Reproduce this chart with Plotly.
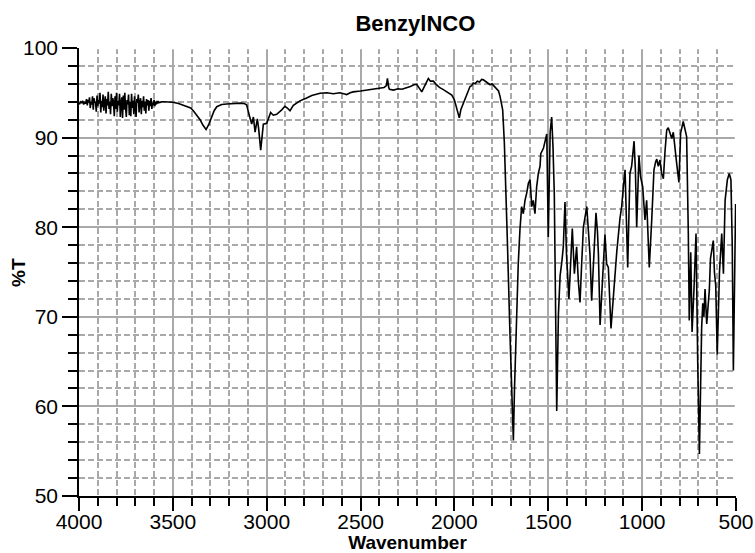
import plotly.graph_objects as go

# IR spectrum of benzyl isocyanate: wavenumber (cm-1) and transmittance (%T)
wavenumber = [
    4000, 3996, 3990, 3985, 3980, 3975, 3970, 3965, 3960, 3956, 3952, 3948,
    3944, 3940, 3936, 3932, 3928, 3924, 3920, 3916, 3912, 3908, 3904, 3900,
    3896, 3892, 3888, 3884, 3880, 3876, 3872, 3868, 3864, 3860, 3856, 3852,
    3848, 3844, 3840, 3836, 3832, 3828, 3824, 3820, 3816, 3812, 3808, 3804,
    3800, 3796, 3792, 3788, 3784, 3780, 3776, 3772, 3768, 3764, 3760, 3756,
    3752, 3748, 3744, 3740, 3736, 3732, 3728, 3724, 3720, 3716, 3712, 3708,
    3704, 3700, 3696, 3692, 3688, 3684, 3680, 3676, 3672, 3668, 3664, 3660,
    3656, 3652, 3648, 3644, 3640, 3636, 3632, 3628, 3624, 3620, 3616, 3612,
    3608, 3604, 3600, 3596, 3592, 3588, 3584, 3580, 3576, 3570, 3560,
    3550, 3520, 3500, 3470, 3440,
    3426, 3405, 3391, 3370, 3355, 3340, 3323, 3308, 3293, 3280, 3266, 3240,
    3213, 3180, 3140, 3120, 3107, 3093, 3080, 3071, 3062, 3050, 3043, 3032,
    3018, 3000, 2990, 2979, 2965, 2947, 2920, 2903, 2890, 2876, 2858, 2823,
    2790, 2760, 2716, 2680, 2645, 2610, 2590, 2574, 2555, 2540, 2500, 2467,
    2430, 2396, 2375, 2362, 2357, 2350, 2346, 2325, 2300, 2280, 2254, 2235,
    2215, 2201, 2190, 2180, 2174, 2165, 2150, 2139, 2128, 2112, 2100, 2080,
    2059, 2040, 2025, 2014, 2000, 1990, 1982, 1974, 1966, 1953, 1940, 1928,
    1917, 1908, 1900, 1890, 1878, 1866, 1855, 1846, 1835, 1822, 1810, 1800,
    1790, 1775, 1765, 1757, 1750, 1743, 1734, 1725, 1718, 1704, 1692, 1686,
    1680, 1668, 1660, 1651, 1646, 1642, 1633, 1624, 1615, 1606, 1597, 1588,
    1580, 1571, 1562, 1553, 1544, 1540, 1526, 1517, 1508, 1500, 1490, 1482,
    1475, 1468, 1460, 1455, 1446, 1437, 1428, 1420, 1411, 1403, 1390, 1380,
    1372, 1361, 1349, 1340, 1331, 1322, 1313, 1295, 1285, 1278, 1269, 1260,
    1246, 1238, 1233, 1224, 1210, 1198, 1189, 1180, 1166, 1155, 1145, 1135,
    1118, 1109, 1100, 1091, 1077, 1065, 1056, 1043, 1036, 1029, 1017, 1008,
    997, 985, 976, 962, 949, 937, 928, 922, 914, 905, 896, 887,
    878, 869, 861, 850, 842, 834, 825, 816, 804, 795, 781, 772,
    763, 754, 749, 741, 734, 724, 713, 704, 695, 683, 677, 671,
    665, 656, 648, 642, 636, 628, 621, 615, 608, 600, 594, 588,
    576, 567, 558, 546, 536, 527, 520, 514, 502,
]
transmittance = [
    93.9, 93.8, 94.0, 93.9, 94.1, 93.7, 94.0, 93.8, 94.3, 93.6, 94.2, 93.9,
    94.5, 93.3, 94.0, 93.7, 94.6, 93.1, 94.4, 93.9, 94.0, 92.9, 94.7, 93.5,
    94.2, 93.8, 95.0, 92.8, 94.1, 93.4, 94.8, 93.0, 93.9, 94.6, 92.7, 94.3,
    93.6, 95.1, 93.2, 94.0, 92.6, 94.9, 93.5, 94.4, 93.9, 92.4, 94.6, 93.2,
    95.0, 92.9, 94.1, 93.6, 94.9, 92.3, 93.8, 94.5, 92.2, 94.7, 93.1, 95.0,
    93.4, 92.3, 94.2, 93.7, 94.8, 92.5, 94.0, 92.4, 94.9, 93.3, 94.1, 92.6,
    94.6, 93.5, 92.3, 94.3, 93.9, 94.8, 92.8, 93.9, 94.4, 92.6, 94.1, 93.4,
    94.6, 93.0, 94.0, 92.7, 94.3, 93.6, 94.2, 93.0, 94.1, 93.5, 94.4, 93.2,
    93.9, 93.6, 94.2, 93.5, 94.0, 93.7, 94.1, 93.8, 94.0, 93.9, 94.0,
    94.0, 94.0, 93.95, 93.8, 93.6,
    93.5, 93.3, 93.0, 92.4, 92.0, 91.4, 90.9, 91.5, 92.3, 93.0, 93.45, 93.7,
    93.75, 93.8, 93.85, 93.8, 93.65, 92.5, 91.5, 92.3, 90.6, 92.1, 91.0, 88.6,
    91.5, 91.6, 92.2, 92.8, 92.5, 92.6, 93.1, 93.5, 93.3, 93.0, 93.6, 94.1,
    94.4, 94.7, 94.95, 95.0, 94.9, 95.0, 94.9, 94.8, 95.0, 95.1, 95.2, 95.3,
    95.35, 95.5, 95.6, 95.8, 96.6, 95.6, 95.4, 95.3, 95.45, 95.4, 95.55, 95.7,
    95.9, 95.95, 95.6, 95.2, 95.1, 95.5, 96.2, 96.6, 96.3, 96.3, 96.0, 95.6,
    95.35, 95.1, 94.9, 94.75, 94.2, 93.5, 92.9, 92.2, 93.1, 93.85, 94.6, 95.2,
    95.7, 95.8, 96.1, 96.0, 96.3, 96.2, 96.5, 96.45, 96.3, 96.1, 95.9, 96.0,
    95.8, 95.5, 95.2, 94.6, 93.9, 93.1, 89.4, 83.8, 78.5, 68.0, 59.5, 56.2,
    62.0, 71.8, 75.9, 79.7, 81.0, 82.3, 81.5, 83.0, 83.8, 84.9, 85.3, 82.3,
    83.0, 81.5, 84.5, 86.0, 86.8, 88.2, 88.8, 89.7, 90.4, 78.9, 90.6, 92.3,
    89.0, 83.8, 70.0, 59.5, 70.3, 74.6, 76.1, 77.8, 82.8, 77.0, 72.0, 76.5,
    79.85, 74.8, 77.8, 74.0, 71.6, 76.0, 80.0, 82.3, 78.5, 77.0, 71.8, 76.3,
    81.6, 79.5, 77.0, 69.1, 75.5, 79.2, 75.9, 75.5, 68.7, 72.0, 75.2, 77.3,
    81.0, 82.3, 84.5, 86.4, 75.5, 86.0, 86.8, 89.6, 86.4, 80.0, 88.0, 85.6,
    84.5, 80.8, 83.0, 75.5, 80.8, 86.4, 87.3, 87.6, 86.8, 87.5, 86.0, 85.4,
    88.5, 90.85, 91.1, 90.3, 89.9, 90.6, 88.6, 87.1, 85.0, 90.5, 91.8, 91.1,
    90.1, 79.3, 69.6, 77.2, 68.3, 73.0, 79.3, 65.0, 54.7, 68.8, 71.5, 70.0,
    73.1, 69.2, 71.0, 73.0, 76.5, 77.5, 78.5, 75.0, 73.5, 65.8, 71.0, 75.0,
    79.3, 74.8, 83.0, 85.3, 86.0, 85.3, 78.0, 64.0, 82.6,
]

x_range = [4000, 500]
y_range = [50, 100]
grid_color = "#a9a9a9"
grid_dash = "6px,3px"
font_family = "Liberation Sans, Arial, sans-serif"

fig = go.Figure(
    go.Scatter(
        x=wavenumber,
        y=transmittance,
        mode="lines",
        line=dict(color="black", width=1.6),
        hoverinfo="skip",
    )
)

axis_common = dict(
    showline=True,
    linecolor="black",
    linewidth=1.6,
    ticks="outside",
    tickcolor="black",
    tickwidth=1.6,
    showgrid=True,
    gridcolor=grid_color,
    gridwidth=1.5,
    zeroline=False,
    mirror=False,
    automargin=False,
    tickfont=dict(family=font_family, size=21, color="black"),
)

fig.update_xaxes(
    range=x_range,
    tick0=0,
    dtick=500,
    ticklen=13,
    ticklabelstandoff=-7,
    title=dict(text="<b>Wavenumber</b>", font=dict(family=font_family, size=19, color="black"), standoff=6),
    minor=dict(dtick=100, ticks="outside", ticklen=8, tickwidth=1.6, tickcolor="black",
               showgrid=True, gridcolor=grid_color, gridwidth=1.5, griddash=grid_dash),
    **axis_common,
)
fig.update_yaxes(
    range=y_range,
    tick0=0,
    dtick=10,
    ticklen=15,
    minor=dict(dtick=2, ticks="outside", ticklen=9, tickwidth=1.6, tickcolor="black",
               showgrid=True, gridcolor=grid_color, gridwidth=1.5, griddash=grid_dash),
    **axis_common,
)

# Vertical axis label, set in the left margin
fig.add_annotation(
    text="<b>%T</b>",
    textangle=-90,
    xref="paper",
    yref="paper",
    x=-0.093,
    y=0.5,
    xanchor="center",
    yanchor="middle",
    showarrow=False,
    font=dict(family=font_family, size=19, color="black"),
)

# The frame is open on the top and right: mask the grid lines lying on those edges
for edge in (
    dict(x0=x_range[0], x1=x_range[1], y0=y_range[1], y1=y_range[1]),
    dict(x0=x_range[1], x1=x_range[1], y0=y_range[0], y1=y_range[1]),
):
    fig.add_shape(type="line", xref="x", yref="y", layer="between",
                  line=dict(color="white", width=2.5), **edge)

fig.update_layout(
    width=755,
    height=553,
    margin=dict(l=79, r=19, t=48, b=57),
    paper_bgcolor="white",
    plot_bgcolor="white",
    showlegend=False,
    title=dict(
        text="<b>BenzylNCO</b>",
        x=0.512,
        xref="paper",
        xanchor="center",
        y=1 - 23 / 553,
        yref="container",
        yanchor="middle",
        font=dict(family=font_family, size=22, color="black"),
    ),
)

fig.write_html("out.html")
